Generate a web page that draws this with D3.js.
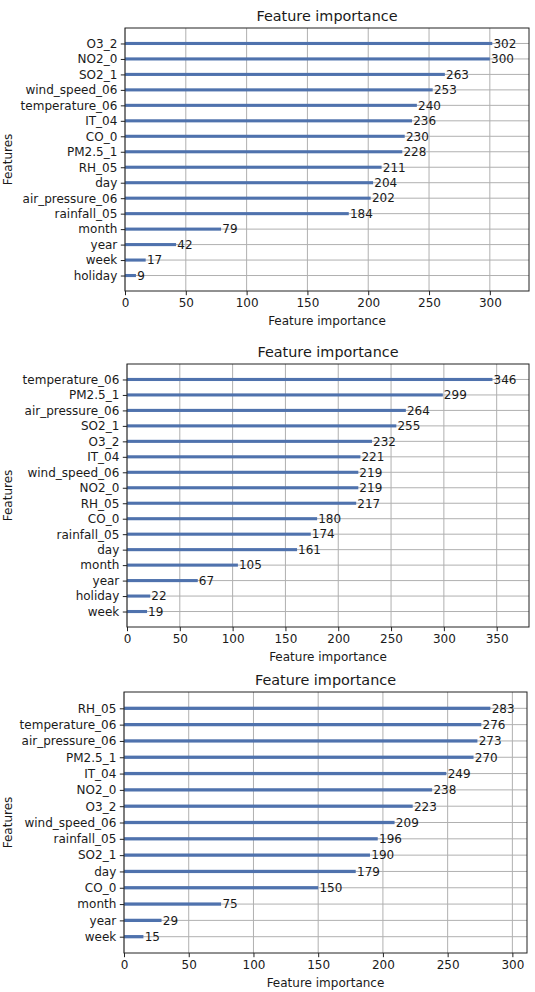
<!DOCTYPE html>
<html>
<head>
<meta charset="utf-8">
<script src="https://cdn.jsdelivr.net/npm/d3@7"></script>
<style>
  html, body { margin: 0; padding: 0; background: #fff; }
  svg { display: block; font-family: "DejaVu Sans", sans-serif; }
</style>
</head>
<body>
<svg id="chart" width="535" height="992"></svg>
<script>
// ---- data ----
const features1 = ["O3_2","NO2_0","SO2_1","wind_speed_06","temperature_06","IT_04","CO_0","PM2.5_1","RH_05","day","air_pressure_06","rainfall_05","month","year","week","holiday"];
const values1   = [302,300,263,253,240,236,230,228,211,204,202,184,79,42,17,9];
const ticks1    = [0,50,100,150,200,250,300];

const features2 = ["temperature_06","PM2.5_1","air_pressure_06","SO2_1","O3_2","IT_04","wind_speed_06","NO2_0","RH_05","CO_0","rainfall_05","day","month","year","holiday","week"];
const values2   = [346,299,264,255,232,221,219,219,217,180,174,161,105,67,22,19];
const ticks2    = [0,50,100,150,200,250,300,350];

const features3 = ["RH_05","temperature_06","air_pressure_06","PM2.5_1","IT_04","NO2_0","O3_2","wind_speed_06","rainfall_05","SO2_1","day","CO_0","month","year","week"];
const values3   = [283,276,273,270,249,238,223,209,196,190,179,150,75,29,15];
const ticks3    = [0,50,100,150,200,250,300];

const titleText = "Feature importance";
const xLabelText = "Feature importance";
const yLabelText = "Features";

const svg = d3.select("#chart");

function drawPanel(features, values, ticks, box) {
  const g = svg.append("g");
  const n = features.length;
  const maxV = d3.max(values);
  const x = d3.scaleLinear().domain([0, maxV * 1.1]).range([box.left, box.right]);
  // index 0 at top; lightgbm ylim(-1, n)
  const y = d3.scaleLinear().domain([-1, n]).range([box.bottom, box.top]);
  const pos = i => y(n - 1 - i);

  // grid
  g.selectAll(".vg").data(ticks).enter().append("line")
    .attr("x1", d => x(d)).attr("x2", d => x(d))
    .attr("y1", box.top).attr("y2", box.bottom)
    .attr("stroke", "#b0b0b0").attr("stroke-width", 1);
  g.selectAll(".hg").data(features).enter().append("line")
    .attr("x1", box.left).attr("x2", box.right)
    .attr("y1", (d, i) => pos(i)).attr("y2", (d, i) => pos(i))
    .attr("stroke", "#b0b0b0").attr("stroke-width", 1);

  // bars (height 0.2 in data units)
  const bh = Math.abs(y(0) - y(0.2));
  g.selectAll(".bar").data(values).enter().append("rect")
    .attr("x", x(0))
    .attr("y", (d, i) => pos(i) - bh / 2)
    .attr("width", d => x(d) - x(0))
    .attr("height", bh)
    .attr("fill", "#4f72ad");

  // value labels
  g.selectAll(".val").data(values).enter().append("text")
    .attr("x", d => x(d + 1))
    .attr("y", (d, i) => pos(i))
    .attr("dy", "0.36em")
    .attr("font-size", 12)
    .attr("fill", "#1a1a1a")
    .text(d => d);

  // axes
  const xAxis = d3.axisBottom(x).tickValues(ticks).tickSize(4.2).tickPadding(3.5).tickFormat(d3.format("d"));
  const xg = g.append("g").attr("transform", `translate(0,${box.bottom})`).call(xAxis);
  xg.select(".domain").remove();
  xg.selectAll("line").attr("stroke", "#222");
  xg.selectAll("text").attr("font-size", 12).attr("fill", "#1a1a1a").attr("font-family", "DejaVu Sans");

  const yAxis = d3.axisLeft(y).tickValues(d3.range(n)).tickSize(4.2).tickPadding(3.5)
    .tickFormat(v => features[n - 1 - v]);
  const yg = g.append("g").attr("transform", `translate(${box.left},0)`).call(yAxis);
  yg.select(".domain").remove();
  yg.selectAll("line").attr("stroke", "#222");
  yg.selectAll("text").attr("font-size", 12).attr("fill", "#1a1a1a").attr("font-family", "DejaVu Sans");

  // frame
  g.append("rect")
    .attr("x", box.left).attr("y", box.top)
    .attr("width", box.right - box.left).attr("height", box.bottom - box.top)
    .attr("fill", "none").attr("stroke", "#222").attr("stroke-width", 1);

  // title
  g.append("text")
    .attr("x", (box.left + box.right) / 2)
    .attr("y", box.top - 7)
    .attr("text-anchor", "middle")
    .attr("font-size", 14.4)
    .attr("fill", "#1a1a1a")
    .text(titleText);

  // x label
  g.append("text")
    .attr("x", (box.left + box.right) / 2)
    .attr("y", box.bottom + 34)
    .attr("text-anchor", "middle")
    .attr("font-size", 12)
    .attr("fill", "#1a1a1a")
    .text(xLabelText);

  // y label
  g.append("text")
    .attr("transform", `translate(12,${(box.top + box.bottom) / 2}) rotate(-90)`)
    .attr("text-anchor", "middle")
    .attr("font-size", 12)
    .attr("fill", "#1a1a1a")
    .text(yLabelText);
}

drawPanel(features1, values1, ticks1, {left: 125, right: 529, top: 28, bottom: 291});
drawPanel(features2, values2, ticks2, {left: 127, right: 529, top: 364, bottom: 627});
drawPanel(features3, values3, ticks3, {left: 124, right: 527, top: 692, bottom: 953});
</script>
</body>
</html>
